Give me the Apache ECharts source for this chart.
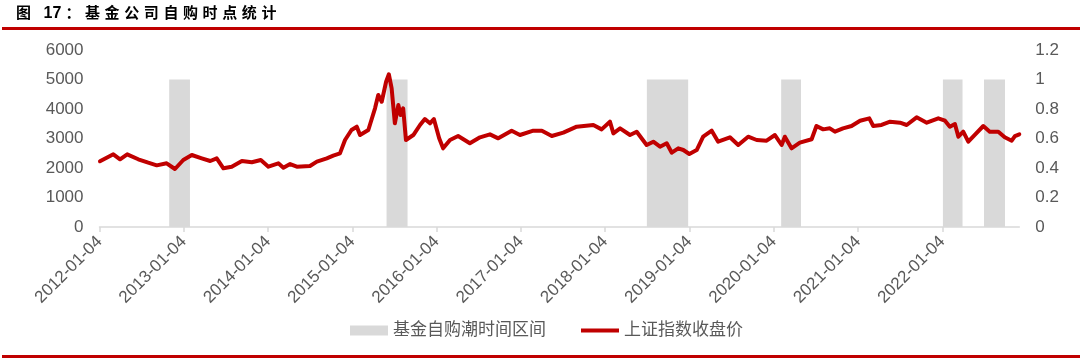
<!DOCTYPE html>
<html>
<head>
<meta charset="utf-8">
<script src="https://cdn.jsdelivr.net/npm/echarts@6/dist/echarts.min.js"></script>
<style>
  html, body { margin: 0; padding: 0; background: #fff; }
  #wrap { position: relative; width: 1080px; height: 362px; overflow: hidden; }
  #title { position: absolute; left: 16px; top: 2px; font-family: 'Noto Sans CJK SC', sans-serif; font-size: 15px; font-weight: bold; letter-spacing: 4.6px; color: #000; line-height: 20px; white-space: nowrap; z-index: 2; }
  #title .num { letter-spacing: 0; margin-right: 4px; font-family: 'Liberation Sans', Arial, sans-serif; font-size: 16px; }
  #topline { position: absolute; left: 2px; right: 0; top: 27px; height: 3px; background: #C00000; z-index: 2; }
  #botline { position: absolute; left: 2px; right: 0; top: 355px; height: 3px; background: #C00000; z-index: 2; }
  #chart { position: absolute; left: 0; top: 0; width: 1080px; height: 362px; }
</style>
</head>
<body>
<div id="wrap">
  <div id="chart"></div>
  <div id="title">图 <span class="num">17</span>：基金公司自购时点统计</div>
  <div id="topline"></div>
  <div id="botline"></div>
</div>
<script>
// ---- data ----
const dates = [
  '2012-01-06','2012-03-04','2012-04-02','2012-05-03','2012-06-20','2012-08-02','2012-09-08','2012-10-21','2012-11-26','2013-01-01',
  '2013-02-07','2013-03-22','2013-04-28','2013-05-26','2013-06-24','2013-07-30','2013-09-12','2013-10-25','2013-12-03','2014-01-05',
  '2014-02-17','2014-03-11','2014-04-09','2014-05-08','2014-07-04','2014-08-03','2014-09-15','2014-10-13','2014-11-11','2014-12-03',
  '2014-12-31','2015-01-23','2015-02-06','2015-03-14','2015-04-12','2015-04-26','2015-05-11','2015-05-30','2015-06-11','2015-06-23',
  '2015-07-07','2015-07-22','2015-08-01','2015-08-12','2015-08-24','2015-09-25','2015-10-24','2015-11-14','2015-12-06','2015-12-23',
  '2016-01-15','2016-02-01','2016-03-02','2016-04-06','2016-05-27','2016-07-10','2016-08-22','2016-09-27','2016-11-24','2016-12-30',
  '2017-02-26','2017-04-04','2017-05-17','2017-07-06','2017-09-02','2017-11-13','2017-12-19','2018-01-24','2018-02-08','2018-03-09',
  '2018-04-21','2018-05-20','2018-07-02','2018-07-31','2018-08-29','2018-09-27','2018-10-19','2018-11-16','2018-12-08','2019-01-03',
  '2019-02-04','2019-03-04','2019-04-10','2019-05-08','2019-06-28','2019-08-03','2019-09-15','2019-10-22','2019-12-04','2020-01-09',
  '2020-02-07','2020-02-21','2020-03-21','2020-04-26','2020-06-16','2020-07-07','2020-08-05','2020-09-03','2020-09-25','2020-10-30',
  '2020-12-06','2021-01-12','2021-02-21','2021-03-10','2021-04-15','2021-05-22','2021-07-04','2021-08-02','2021-09-14','2021-10-28',
  '2021-12-17','2022-01-15','2022-02-05','2022-02-27','2022-03-14','2022-04-04','2022-04-26','2022-05-23','2022-06-30','2022-07-28',
  '2022-09-03','2022-10-01','2022-10-31','2022-11-14','2022-12-03'
];
const closes = [
  2230,2464,2295,2464,2295,2180,2090,2159,1966,2271,
  2440,2328,2237,2328,1990,2045,2237,2193,2271,2045,
  2159,2010,2135,2045,2067,2215,2328,2418,2497,2949,
  3288,3400,3118,3288,4023,4474,4247,4925,5176,4700,
  3515,4135,3797,4023,2949,3118,3458,3661,3515,3661,
  3006,2667,2949,3084,2837,3040,3141,3006,3264,3118,
  3264,3264,3084,3197,3400,3458,3310,3570,3175,3345,
  3118,3231,2780,2892,2722,2837,2519,2667,2610,2475,
  2610,3061,3264,2892,3040,2780,3061,2949,2926,3118,
  2780,3061,2667,2858,2973,3424,3310,3345,3231,3345,
  3424,3603,3684,3424,3458,3570,3536,3458,3718,3536,
  3684,3603,3400,3492,3061,3231,2892,3118,3424,3231,
  3231,3040,2926,3084,3141
];
const buyStart = ['2012-11-01','2015-06-01','2018-07-03','2020-02-05','2022-01-06','2022-07-03'];
const buyEnd   = ['2013-01-30','2015-08-31','2018-12-29','2020-05-01','2022-04-01','2022-10-02'];
const buyLevel = [1, 1, 1, 1, 1, 1];
const tickLabels = ['2012-01-04','2013-01-04','2014-01-04','2015-01-04','2016-01-04','2017-01-04',
                    '2018-01-04','2019-01-04','2020-01-04','2021-01-04','2022-01-04'];
const axisStart = '2012-01-04';
const axisEnd = '2022-12-03';
const legendNames = ['基金自购潮时间区间', '上证指数收盘价'];

// ---- helpers ----
const DAY = 86400000;
const t0 = Date.parse(axisStart + 'T00:00:00Z');
const toDay = s => (Date.parse(s + 'T00:00:00Z') - t0) / DAY;
const YEAR = 365.25;

const lineData = dates.map((d, i) => [toDay(d), closes[i]]);
const barData = buyStart.map((s, i) => [toDay(s), toDay(buyEnd[i]), buyLevel[i]]);

const FONT = "'Liberation Sans', Arial, 'Noto Sans CJK SC', sans-serif";
const labelColor = '#595959';

const chart = echarts.init(document.getElementById('chart'), null, { renderer: 'canvas' });
chart.setOption({
  animation: false,
  backgroundColor: '#fff',
  textStyle: { fontFamily: FONT },
  grid: { left: 99.5, right: 60.7, top: 50, bottom: 135, containLabel: false, outerBoundsMode: 'none' },
  legend: {
    left: 350, top: 322, padding: 0,
    itemWidth: 38, itemHeight: 10, itemGap: 35,
    textStyle: { fontFamily: FONT, fontSize: 17, color: labelColor },
    data: [
      { name: legendNames[0], icon: 'rect', itemStyle: { color: '#D9D9D9' } },
      { name: legendNames[1], icon: 'path://M0,0H40V4H0Z', itemStyle: { color: '#C00000' } }
    ]
  },
  xAxis: {
    type: 'value',
    min: 0, max: toDay(axisEnd), interval: YEAR,
    splitLine: { show: false },
    axisLine: { show: true, lineStyle: { color: '#D9D9D9', width: 1.5 } },
    axisTick: { show: true, length: 5, lineStyle: { color: '#D9D9D9', width: 1.5 } },
    axisLabel: {
      rotate: 45, margin: 12, fontSize: 17, color: labelColor, fontFamily: FONT,
      showMaxLabel: false,
      formatter: v => {
        const k = v / YEAR;
        const r = Math.round(k);
        if (Math.abs(k - r) > 0.01) return '';
        return tickLabels[r] || '';
      }
    }
  },
  yAxis: [
    {
      type: 'value', min: 0, max: 6000, interval: 1000,
      splitLine: { show: false }, axisLine: { show: false }, axisTick: { show: false },
      axisLabel: { fontSize: 17, color: labelColor, margin: 16, fontFamily: FONT,
        formatter: v => String(v) }
    },
    {
      type: 'value', min: 0, max: 1.2, interval: 0.2, position: 'right',
      splitLine: { show: false }, axisLine: { show: false }, axisTick: { show: false },
      axisLabel: { fontSize: 17, color: labelColor, margin: 16, fontFamily: FONT,
        formatter: v => String(Math.round(v * 10) / 10) }
    }
  ],
  series: [
    {
      name: legendNames[0],
      type: 'custom',
      yAxisIndex: 1,
      itemStyle: { color: '#D9D9D9' },
      encode: { x: [0, 1], y: 2 },
      data: barData,
      renderItem: (params, api) => {
        const p0 = api.coord([api.value(0), api.value(2)]);
        const p1 = api.coord([api.value(1), 0]);
        return {
          type: 'rect',
          shape: { x: p0[0], y: p0[1], width: p1[0] - p0[0], height: p1[1] - p0[1] },
          style: { fill: '#D9D9D9' }
        };
      },
      z: 1
    },
    {
      name: legendNames[1],
      type: 'line',
      yAxisIndex: 0,
      data: lineData,
      symbol: 'none',
      showSymbol: false,
      lineStyle: { color: '#C00000', width: 4, join: 'round', cap: 'round' },
      itemStyle: { color: '#C00000' },
      z: 3
    }
  ]
});
</script>
</body>
</html>
